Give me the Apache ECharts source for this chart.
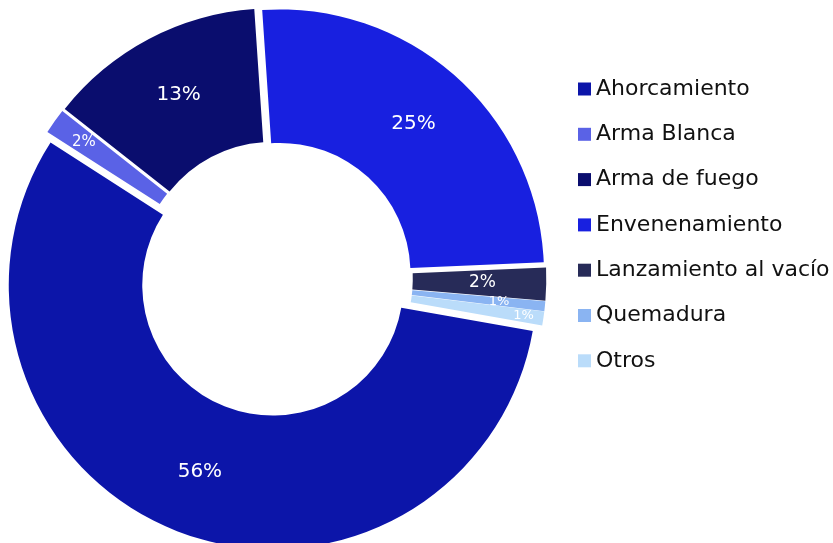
<!DOCTYPE html>
<html>
<head>
<meta charset="utf-8">
<script src="https://cdn.jsdelivr.net/npm/echarts@6/dist/echarts.min.js"></script>
<style>
html,body{margin:0;padding:0;background:#fff;}
#chart{width:833px;height:543px;}
</style>
</head>
<body>
<div id="chart"></div>
<script>
// ---- data ----
const categories = ['Ahorcamiento', 'Arma Blanca', 'Arma de fuego', 'Envenenamiento', 'Lanzamiento al vacío', 'Quemadura', 'Otros'];
const values = [56.3, 1.55, 13.3, 25.4, 2.0, 0.6, 0.85];
const colors = ['#0c15a9', '#5a62e6', '#0a0d6e', '#1820e0', '#272b58', '#8ab4f2', '#badcfa'];

// ---- layout / style config ----
const CENTER = [275.3, 278.6];
const R_IN = 130.5, R_OUT = 264;
const EXPLODE = 7;
const START = 350;
const FONT = '"DejaVu Sans", sans-serif';
// labels drawn on the main ring
const mainLabelSize = {'Ahorcamiento': 20, 'Arma de fuego': 20, 'Envenenamiento': 20, 'Lanzamiento al vacío': 17};
// labels of thin slices drawn farther out (radius of label centre, font size)
const outerLabels = [
  {name: 'Arma Blanca', r: 232, size: 15},
  {name: 'Quemadura', r: 222, size: 13},
  {name: 'Otros', r: 248, size: 13}
];

const fmt = p => Math.round(p.percent) + '%';

const mainData = categories.map((c, i) => ({
  name: c,
  value: values[i],
  selected: true,
  itemStyle: {color: colors[i]},
  label: mainLabelSize[c] ? {show: true, fontSize: mainLabelSize[c]} : {show: false}
}));

const series = [{
  type: 'pie',
  name: 'main',
  center: CENTER,
  radius: [R_IN, R_OUT],
  startAngle: START,
  clockwise: true,
  selectedMode: 'multiple',
  selectedOffset: EXPLODE,
  avoidLabelOverlap: false,
  animation: false,
  silent: true,
  itemStyle: {borderWidth: 0},
  select: {itemStyle: {borderWidth: 0}},
  emphasis: {disabled: true},
  label: {show: true, position: 'inside', color: '#fff', fontFamily: FONT, formatter: fmt},
  labelLine: {show: false},
  data: mainData
}];

outerLabels.forEach((o, k) => {
  const span = R_OUT - o.r;
  series.push({
    type: 'pie',
    name: 'lbl' + k,
    center: CENTER,
    radius: [o.r - span, R_OUT],
    startAngle: START,
    clockwise: true,
    avoidLabelOverlap: false,
    animation: false,
    silent: true,
    emphasis: {disabled: true},
    itemStyle: {color: 'rgba(0,0,0,0)', borderWidth: 0},
    label: {show: true, position: 'inside', color: '#fff', fontFamily: FONT, formatter: fmt},
    labelLine: {show: false},
    data: categories.map((c, i) => ({
      name: c,
      value: values[i],
      itemStyle: {color: 'rgba(0,0,0,0)'},
      label: c === o.name ? {show: true, fontSize: o.size} : {show: false}
    }))
  });
});

const chart = echarts.init(document.getElementById('chart'), null, {renderer: 'canvas'});
chart.setOption({
  backgroundColor: '#fff',
  animation: false,
  legend: {
    orient: 'vertical',
    left: 573,
    top: 71,
    itemWidth: 13,
    itemHeight: 13,
    itemGap: 19.3,
    icon: 'rect',
    selectedMode: false,
    data: categories.map((c, i) => ({name: c, itemStyle: {color: colors[i]}})),
    textStyle: {fontFamily: '"DejaVu Sans", sans-serif', fontSize: 22, lineHeight: 26, color: '#111'}
  },
  series: series
});
</script>
</body>
</html>
